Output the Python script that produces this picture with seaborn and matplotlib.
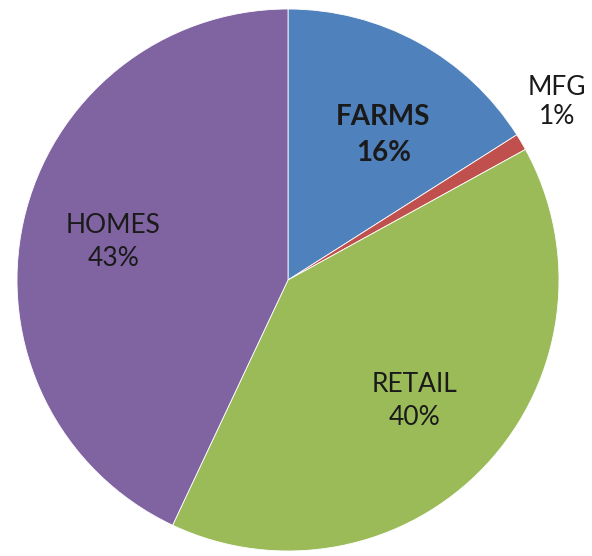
import numpy as np
import matplotlib
matplotlib.use("Agg")
import matplotlib.pyplot as plt
import seaborn as sns

# Share of total by sector (percent), clockwise from 12 o'clock
categories = ["FARMS", "MFG", "RETAIL", "HOMES"]
shares = [16, 1, 40, 43]
pct_labels = ["16%", "1%", "40%", "43%"]

colors = ["#4F81BD", "#C0504D", "#9BBB59", "#8064A2"]

sns.set_theme(style="white")
plt.rcParams["font.family"] = ["Lato", "DejaVu Sans"]

W, H = 592, 556
fig = plt.figure(figsize=(W / 100, H / 100), dpi=100)
ax = fig.add_axes([0, 0, 1, 1])

R = 271.0
cx, cy = 288.0, 280.0
wedges, _ = ax.pie(
    shares,
    colors=colors,
    startangle=90,
    counterclock=False,
    radius=1.0,
    wedgeprops=dict(edgecolor="white", linewidth=0.6),
)
ax.set_xlim(-cx / R, (W - cx) / R)
ax.set_ylim(-(H - cy) / R, cy / R)
ax.set_aspect("equal")
ax.axis("off")

# label placement: distance from centre, angular nudge, size, spacing
label_dist = [0.64, 1.19, 0.645, 0.66]
label_nudge = [-4.5, 3.0, -0.6, 0.4]
label_size = [20, 19, 19, 19]
label_spacing = [1.45, 1.2, 1.4, 1.4]
bold = [True, False, False, False]

for w, name, pct, d, nudge, fs, ls, b in zip(
        wedges, categories, pct_labels, label_dist, label_nudge,
        label_size, label_spacing, bold):
    mid = np.deg2rad((w.theta1 + w.theta2) / 2 + nudge)
    x, y = d * np.cos(mid), d * np.sin(mid)
    ax.text(x, y, f"{name}\n{pct}", ha="center", va="center",
            fontsize=fs, fontweight="bold" if b else "normal",
            color="#1a1a1a", linespacing=ls)

fig.savefig("out.png", dpi=100)
